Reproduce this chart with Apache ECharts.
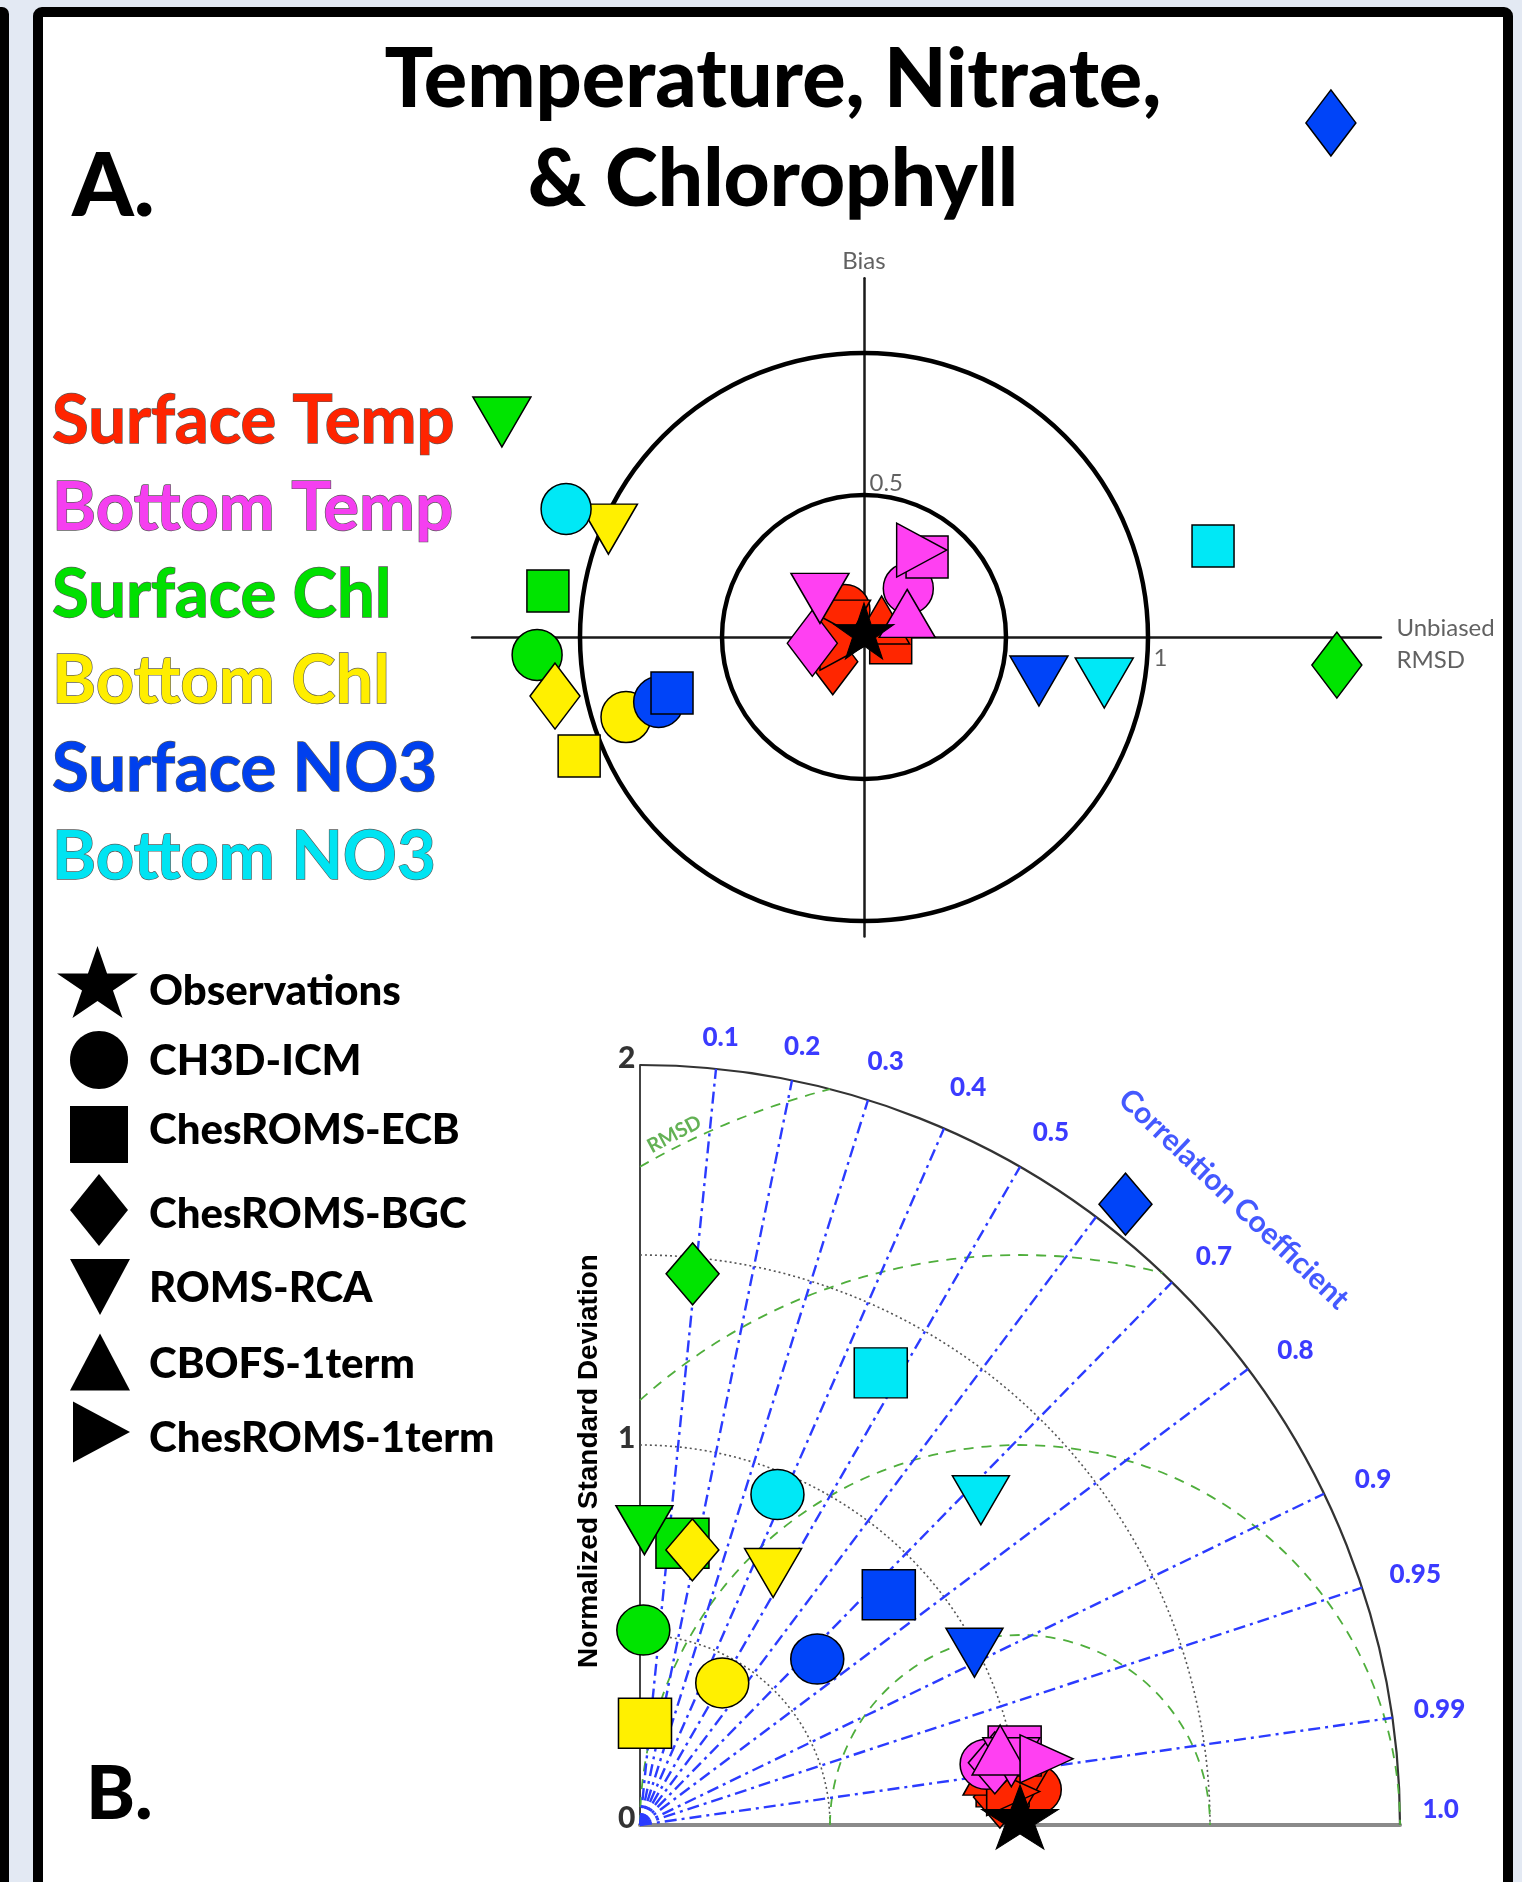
<!DOCTYPE html>
<html>
<head>
<meta charset="utf-8">
<title>Temperature, Nitrate, &amp; Chlorophyll</title>
<script src="https://cdn.jsdelivr.net/npm/echarts@6.0.0/dist/echarts.min.js"></script>
<style>
  html, body { margin: 0; padding: 0; background: #e3e9f3; overflow: hidden; }
  .side-bar { position: absolute; left: -20px; top: 7px; width: 29px; height: 1900px; background: #000; border-radius: 7px; }
  .frame { position: absolute; left: 33px; top: 7px; width: 1460px; height: 1900px; border: 10px solid #000; border-radius: 9px; background: #fff; }
  #chart { position: absolute; left: 0; top: 0; width: 1522px; height: 1882px; }
</style>
</head>
<body>
<div class="side-bar"></div>
<div class="frame"></div>
<div id="chart"></div>
<script>
// ---------------------------------------------------------------------------
// Data
// ---------------------------------------------------------------------------
const models = ['CH3D-ICM', 'ChesROMS-ECB', 'ChesROMS-BGC', 'ROMS-RCA', 'CBOFS-1term', 'ChesROMS-1term'];
const variables = ['Surface Temp', 'Bottom Temp', 'Surface Chl', 'Bottom Chl', 'Surface NO3', 'Bottom NO3'];

// Target diagram: [normalized unbiased RMSD, normalized bias], one entry per model (null = not run)
const targetSurfaceTemp = [[-0.067, 0.095], [0.094, -0.020], [-0.110, -0.087], [-0.079, 0.042], [0.062, 0.060], [-0.067, -0.022]];
const targetBottomTemp  = [[0.156, 0.171], [0.222, 0.282], [-0.182, -0.022], [-0.155, 0.136], [0.152, 0.083], [0.203, 0.306]];
const targetSurfaceChl  = [[-1.151, -0.063], [-1.113, 0.162], [1.665, -0.099], [-1.275, 0.757], null, null];
const targetBottomChl   = [[-0.838, -0.282], [-1.003, -0.419], [-1.088, -0.208], [-0.900, 0.380], null, null];
const targetSurfaceNO3  = [[-0.723, -0.229], [-0.676, -0.197], [1.644, 1.810], [0.616, -0.155], null, null];
const targetBottomNO3   = [[-1.049, 0.451], [1.229, 0.320], null, [0.846, -0.162], null, null];

// Taylor diagram: [normalized standard deviation, correlation coefficient], one entry per model
const taylorSurfaceTemp = [[1.043, 0.996], [0.961, 0.993], [0.950, 0.997], [1.008, 0.996], [0.935, 0.988], [0.986, 0.996]];
const taylorBottomTemp  = [[0.926, 0.985], [1.005, 0.981], [0.948, 0.985], [0.991, 0.986], [0.968, 0.979], [1.084, 0.987]];
const taylorSurfaceChl  = [[0.513, 0.017], [0.750, 0.149], [1.457, 0.095], [0.776, 0.015], null, null];
const taylorBottomChl   = [[0.432, 0.501], [0.268, 0.049], [0.737, 0.187], [0.750, 0.467], null, null];
const taylorSurfaceNO3  = [[0.639, 0.730], [0.892, 0.734], [2.074, 0.616], [0.990, 0.889], null, null];
const taylorBottomNO3   = [[0.942, 0.384], [1.348, 0.470], null, [1.239, 0.724], null, null];

// Reference (observations)
const observationTarget = [0, 0];
const observationTaylor = [1, 1];

// Grid values
const targetCircles = [0.5, 1];
const stdArcs = [0.5, 1, 1.5];
const stdMax = 2;
const rmsdContours = [0.5, 1, 1.5, 2];
const corrLines = [0.1, 0.2, 0.3, 0.4, 0.5, 0.6, 0.7, 0.8, 0.9, 0.95, 0.99];
const corrLabels = ['0.1', '0.2', '0.3', '0.4', '0.5', '0.7', '0.8', '0.9', '0.95', '0.99', '1.0'];
const stdTickLabels = ['0', '1', '2'];

// ---------------------------------------------------------------------------
// Styling
// ---------------------------------------------------------------------------
const FONT = 'Lato, "Open Sans", sans-serif';
const variableColors = ['#ff2600', '#ff40f2', '#00e400', '#fff000', '#0044f8', '#00e8f6'];
const labelColors    = ['#ff2400', '#f53ff0', '#00e000', '#ffee00', '#0040ee', '#00e4f2'];

const DOWN = 'path://M0,0L10,0L5,10Z';
const UP = 'path://M5,0L10,10L0,10Z';
const RIGHT = 'path://M0,0L10,5L0,10Z';
const STAR = 'path://M100,0L122.45,69.1L195.1,69.1L136.3,111.8L158.8,180.9L100,138.2L41.2,180.9L63.7,111.8L4.9,69.1L77.55,69.1Z';
const modelSymbols = ['circle', 'rect', 'diamond', DOWN, UP, RIGHT];
const targetSizes = [[50, 51], [42, 42], [50, 66], [58, 50], [56, 48], [50, 54]];
const taylorSizes = [[53, 50], [53, 50], [53, 62], [57, 49], [56, 50], [53, 48]];
// pixel nudges for the correlation tick labels around the arc
const corrLabelOffsets = [[0, 14], [1, 11], [4, 5], [6, 1], [8, 5], [10, 7], [11, 9], [8, 6], [10, 1], [2, -2], [-5, -15]];

// Panel geometry (pixels per unit and data extents)
const A = { cx: 864, cy: 637, unit: 284, xMin: -1.38, xMax: 1.82, yMin: -1.055, yMax: 1.263 };
const B = { ox: 640, oy: 1825, unit: 380 };

const targetSets = [targetSurfaceTemp, targetBottomTemp, targetSurfaceChl, targetBottomChl, targetSurfaceNO3, targetBottomNO3];
const taylorSets = [taylorSurfaceTemp, taylorBottomTemp, taylorSurfaceChl, taylorBottomChl, taylorSurfaceNO3, taylorBottomNO3];

// std / correlation -> Cartesian position on the Taylor quarter circle
const polarToXY = ([s, r]) => [s * r, s * Math.sqrt(Math.max(0, 1 - r * r))];
const identity = (p) => p;

function markerSeries(points, i, toXY, sizes, axis) {
  return {
    type: 'scatter', name: variables[i] + (axis ? ' (Taylor)' : ' (Target)'),
    xAxisIndex: axis, yAxisIndex: axis, z: 5, clip: false, silent: true,
    itemStyle: { color: variableColors[i], borderColor: '#000', borderWidth: 1.5, opacity: 1 },
    data: points.map((p, m) => p ? { value: toXY(p), symbol: modelSymbols[m], symbolSize: sizes[m] } : null)
      .filter(Boolean)
  };
}

const series = [];

// --- Target diagram grid circles
series.push({
  type: 'custom', xAxisIndex: 0, yAxisIndex: 0, z: 3, silent: true,
  data: targetCircles.map(r => [r, 0]),
  renderItem: (params, api) => {
    const c = api.coord([0, 0]);
    const r = api.size([api.value(0), 0])[0];
    return { type: 'circle', shape: { cx: c[0], cy: c[1], r: r },
      style: { fill: 'none', stroke: '#000', lineWidth: 4.5 } };
  }
});

// --- Taylor diagram: standard deviation arcs (dotted) and outer arc
series.push({
  type: 'custom', xAxisIndex: 1, yAxisIndex: 1, z: 2, silent: true,
  data: stdArcs.map(r => [r, 0]),
  renderItem: (params, api) => {
    const c = api.coord([0, 0]);
    const r = api.size([api.value(0), 0])[0];
    return { type: 'arc', shape: { cx: c[0], cy: c[1], r: r, startAngle: -Math.PI / 2, endAngle: 0, clockwise: true },
      style: { fill: 'none', stroke: '#555', lineWidth: 1.6, lineDash: [2, 3] } };
  }
});
series.push({
  type: 'custom', xAxisIndex: 1, yAxisIndex: 1, z: 2, silent: true,
  data: [[stdMax, 0]],
  renderItem: (params, api) => {
    const c = api.coord([0, 0]);
    const r = api.size([api.value(0), 0])[0];
    return { type: 'arc', shape: { cx: c[0], cy: c[1], r: r, startAngle: -Math.PI / 2, endAngle: 0, clockwise: true },
      style: { fill: 'none', stroke: '#333', lineWidth: 2.2 } };
  }
});

// --- Taylor diagram: centred RMSD contours around the reference point, clipped to the quarter circle
series.push({
  type: 'custom', xAxisIndex: 1, yAxisIndex: 1, z: 2, silent: true,
  data: rmsdContours.map(r => [r, 0]),
  renderItem: (params, api) => {
    const r = api.value(0);
    const c = api.coord([observationTaylor[0], 0]);
    const rp = api.size([r, 0])[0];
    let a1 = 0, a2 = Math.PI;
    if (1 + r > stdMax) {
      const x = (stdMax * stdMax - r * r + 1) / 2;
      a1 = Math.atan2(Math.sqrt(stdMax * stdMax - x * x), x - 1);
    }
    if (r > 1) a2 = Math.atan2(Math.sqrt(r * r - 1), -1);
    return { type: 'arc', shape: { cx: c[0], cy: c[1], r: rp, startAngle: -a2, endAngle: -a1, clockwise: true },
      style: { fill: 'none', stroke: '#4fae3c', lineWidth: 1.8, lineDash: [10, 8] } };
  }
});

// --- Taylor diagram: correlation spokes
series.push({
  type: 'custom', xAxisIndex: 1, yAxisIndex: 1, z: 2, silent: true,
  data: corrLines.map(c => [c, 0]),
  renderItem: (params, api) => {
    const c = api.value(0);
    const p0 = api.coord([0, 0]);
    const p1 = api.coord(polarToXY([stdMax, c]));
    return { type: 'line', shape: { x1: p0[0], y1: p0[1], x2: p1[0], y2: p1[1] },
      style: { stroke: '#2b3bff', lineWidth: 2.4, lineDash: [12, 5, 3, 5] } };
  }
});

// --- Model markers
targetSets.forEach((pts, i) => series.push(markerSeries(pts, i, identity, targetSizes, 0)));
taylorSets.forEach((pts, i) => series.push(markerSeries(pts, i, polarToXY, taylorSizes, 1)));

// --- Observations
series.push({
  type: 'scatter', name: 'Observations (Target)', xAxisIndex: 0, yAxisIndex: 0, z: 6, clip: false, silent: true,
  symbol: STAR, symbolSize: [60, 56], symbolOffset: [0, -6],
  itemStyle: { color: '#000', borderColor: '#000', borderWidth: 1, opacity: 1 },
  data: [observationTarget]
});
series.push({
  type: 'scatter', name: 'Observations (Taylor)', xAxisIndex: 1, yAxisIndex: 1, z: 6, clip: false, silent: true,
  symbol: STAR, symbolSize: [77, 64], symbolOffset: [0, -8],
  itemStyle: { color: '#000', borderColor: '#000', borderWidth: 1, opacity: 1 },
  data: [polarToXY(observationTaylor)]
});

// --- Axis annotations (text anchored to data positions)
const smallText = { fontFamily: FONT, fontSize: 24, color: '#3a3a3a', textBorderWidth: 0 };
series.push({
  type: 'scatter', xAxisIndex: 0, yAxisIndex: 0, z: 4, silent: true, clip: false,
  symbolSize: 1, itemStyle: { color: 'transparent' },
  data: [
    { value: [0, 0.5], label: { show: true, formatter: '0.5', position: 'right', distance: 5, offset: [0, -12], ...smallText } },
    { value: [1, 0], label: { show: true, formatter: '1', position: 'right', distance: 5, offset: [0, 21], ...smallText } },
    { value: [0, A.yMax], label: { show: true, formatter: 'Bias', position: 'top', distance: 5, ...smallText } },
    { value: [A.xMax, 0], label: { show: true, formatter: 'Unbiased\nRMSD', position: 'right', distance: 15, offset: [0, 7],
      align: 'left', lineHeight: 32, ...smallText } }
  ]
});

// standard deviation tick labels along the vertical axis
series.push({
  type: 'scatter', xAxisIndex: 1, yAxisIndex: 1, z: 4, silent: true, clip: false,
  symbolSize: 1, itemStyle: { color: 'transparent' },
  data: stdTickLabels.map(t => [0, parseFloat(t)]),
  label: {
    show: true, position: 'left', distance: 4, offset: [0, -7],
    formatter: p => stdTickLabels[p.dataIndex],
    fontFamily: FONT, fontWeight: 900, fontSize: 30, color: '#000', textBorderWidth: 0
  }
});

const corrLabelRadius = 2.12;
series.push({
  type: 'scatter', xAxisIndex: 1, yAxisIndex: 1, z: 4, silent: true, clip: false,
  symbolSize: 1, itemStyle: { color: 'transparent' },
  data: corrLabels.map((t, i) => ({
    value: polarToXY([corrLabelRadius, parseFloat(t)]),
    label: { offset: corrLabelOffsets[i] }
  })),
  label: {
    show: true, position: 'inside',
    formatter: p => corrLabels[p.dataIndex],
    fontFamily: FONT, fontWeight: 900, fontSize: 26, color: '#0a0aff', textBorderWidth: 0
  }
});

const titleAngle = 46.5 * Math.PI / 180;
series.push({
  type: 'scatter', xAxisIndex: 1, yAxisIndex: 1, z: 4, silent: true, clip: false,
  symbolSize: 1, itemStyle: { color: 'transparent' },
  data: [
    { value: [2.27 * Math.cos(titleAngle), 2.27 * Math.sin(titleAngle)],
      label: { show: true, formatter: 'Correlation Coefficient', position: 'inside', rotate: -43.5,
        fontFamily: FONT, fontWeight: 'bold', fontSize: 30, color: '#1530ff', textBorderWidth: 0 } },
    { value: [0.09, 1.818],
      label: { show: true, formatter: 'RMSD', position: 'inside', rotate: 28,
        fontFamily: FONT, fontWeight: 'bold', fontSize: 20, color: '#3c9e2a', textBorderWidth: 0 } }
  ]
});

// ---------------------------------------------------------------------------
// Text blocks and shape key
// ---------------------------------------------------------------------------
function textEl(str, x, y, font, fill, align, extra) {
  return {
    type: 'text', x: x, y: y, silent: true, z: 10,
    style: Object.assign({ text: str, font: font, fill: fill, align: align, textAlign: align,
      verticalAlign: 'middle', textVerticalAlign: 'middle' }, extra || {})
  };
}

const graphics = [];
graphics.push(textEl('Temperature, Nitrate,', 773, 81, '900 81px ' + FONT, '#000', 'center'));
graphics.push(textEl('& Chlorophyll', 773, 180, '900 80px ' + FONT, '#000', 'center'));
graphics.push(textEl('A.', 72, 188, '900 88px ' + FONT, '#000', 'left'));
graphics.push(textEl('B.', 86, 1795, '900 74px ' + FONT, '#000', 'left'));

const variableRowY = [421, 508, 595, 681, 769, 857];
variables.forEach((v, i) => {
  graphics.push(textEl(v, 52, variableRowY[i], 'bold 67px ' + FONT, labelColors[i], 'left',
    { stroke: '#5a5a5a', lineWidth: 1.3 }));
});

const keyNames = ['Observations'].concat(models);
const keyRowY = [991, 1061, 1130, 1214, 1288, 1364, 1438];
keyNames.forEach((n, i) => graphics.push(textEl(n, 149, keyRowY[i], '900 42px ' + FONT, '#000', 'left')));

const unitShapes = {
  star: [[0.5, 0], [0.618, 0.382], [1, 0.382], [0.691, 0.618], [0.809, 1], [0.5, 0.764], [0.191, 1], [0.309, 0.618], [0, 0.382], [0.382, 0.382]],
  diamond: [[0.5, 0], [1, 0.5], [0.5, 1], [0, 0.5]],
  down: [[0, 0], [1, 0], [0.5, 1]],
  up: [[0.5, 0], [1, 1], [0, 1]],
  right: [[0, 0], [1, 0.5], [0, 1]]
};
function keyPolygon(kind, cx, cy, w, h) {
  return { type: 'polygon', silent: true, z: 10,
    shape: { points: unitShapes[kind].map(([u, v]) => [cx - w / 2 + u * w, cy - h / 2 + v * h]) },
    style: { fill: '#000' } };
}
graphics.push(keyPolygon('star', 97.5, 982, 81, 72));
graphics.push({ type: 'ellipse', silent: true, z: 10, shape: { cx: 99, cy: 1060, rx: 29, ry: 29 }, style: { fill: '#000' } });
graphics.push({ type: 'rect', silent: true, z: 10, shape: { x: 70, y: 1106, width: 58, height: 57 }, style: { fill: '#000' } });
graphics.push(keyPolygon('diamond', 99, 1210, 58, 72));
graphics.push(keyPolygon('down', 100, 1287, 60, 56));
graphics.push(keyPolygon('up', 100, 1362, 60, 57));
graphics.push(keyPolygon('right', 101.5, 1432, 57, 61));

graphics.push({
  type: 'text', x: 589, y: 1461, rotation: Math.PI / 2, silent: true, z: 10,
  style: { text: 'Normalized Standard Deviation', font: 'bold 28px "Liberation Sans", Arial, sans-serif', fill: '#000',
    align: 'center', textAlign: 'center', verticalAlign: 'middle', textVerticalAlign: 'middle' }
});

// ---------------------------------------------------------------------------
// Chart
// ---------------------------------------------------------------------------
const hiddenAxis = { axisTick: { show: false }, axisLabel: { show: false }, splitLine: { show: false } };

const option = {
  animation: false,
  backgroundColor: 'transparent',
  grid: [
    { left: A.cx + A.xMin * A.unit, top: A.cy - A.yMax * A.unit,
      width: (A.xMax - A.xMin) * A.unit, height: (A.yMax - A.yMin) * A.unit,
      containLabel: false, outerBoundsMode: 'none' },
    { left: B.ox, top: B.oy - stdMax * B.unit, width: stdMax * B.unit, height: stdMax * B.unit,
      containLabel: false, outerBoundsMode: 'none' }
  ],
  xAxis: [
    Object.assign({ gridIndex: 0, type: 'value', min: A.xMin, max: A.xMax,
      axisLine: { show: true, onZero: true, lineStyle: { color: '#1a1a1a', width: 2.5 } } }, hiddenAxis),
    Object.assign({ gridIndex: 1, type: 'value', min: 0, max: stdMax,
      axisLine: { show: true, lineStyle: { color: '#8a8a8a', width: 4 } } }, hiddenAxis)
  ],
  yAxis: [
    Object.assign({ gridIndex: 0, type: 'value', min: A.yMin, max: A.yMax,
      axisLine: { show: true, onZero: true, lineStyle: { color: '#1a1a1a', width: 2.5 } } }, hiddenAxis),
    Object.assign({ gridIndex: 1, type: 'value', min: 0, max: stdMax, interval: 1,
      axisLine: { show: true, lineStyle: { color: '#444', width: 2 } } }, hiddenAxis)
  ],
  series: series,
  graphic: graphics
};

const chart = echarts.init(document.getElementById('chart'), null, { renderer: 'canvas', width: 1522, height: 1882 });
chart.setOption(option);
</script>
</body>
</html>
